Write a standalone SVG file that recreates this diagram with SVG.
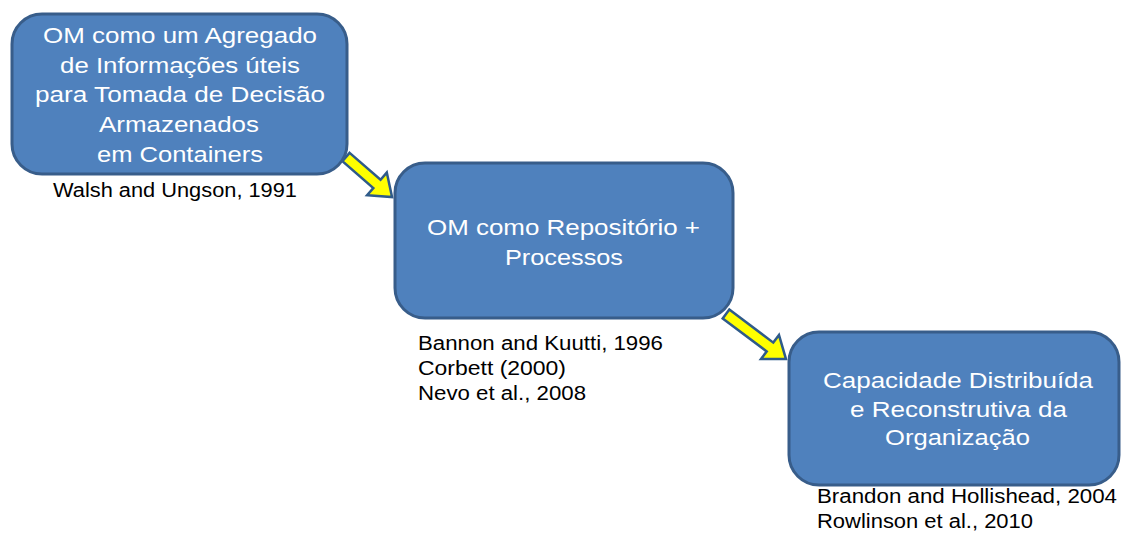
<svg xmlns="http://www.w3.org/2000/svg" width="1121" height="533" viewBox="0 0 1121 533">
<defs>
<style>
.box{fill:#4F81BD;stroke:#385D8A;stroke-width:3}
.arrow{fill:#FFFF00;stroke:#2F5B8A;stroke-width:2.5;stroke-linejoin:miter}
.t{font-family:"Liberation Sans",Arial,sans-serif;font-size:22px;fill:#FFFFFF}
.c{font-family:"Liberation Sans",Arial,sans-serif;font-size:20px;fill:#000000}
</style>
</defs>
<rect width="1121" height="533" fill="#FFFFFF"/>
<g id="connectors">
<polygon class="arrow" transform="translate(346,157) rotate(41)" points="0,-5.5 41,-5.5 41,-15 61,0 41,15 41,5.5 0,5.5"/>
<polygon class="arrow" transform="translate(726,314) rotate(36.9)" points="0,-5.5 55,-5.5 55,-15 75,0 55,15 55,5.5 0,5.5"/>
</g>
<g id="node1">
<rect class="box" x="12" y="14" width="335" height="160" rx="30" ry="30"/>
<text class="t" x="43" y="43" textLength="274" lengthAdjust="spacingAndGlyphs">OM como um Agregado</text>
<text class="t" x="60" y="73" textLength="240" lengthAdjust="spacingAndGlyphs">de Informações úteis</text>
<text class="t" x="35" y="102" textLength="290" lengthAdjust="spacingAndGlyphs">para Tomada de Decisão</text>
<text class="t" x="99" y="132" textLength="160" lengthAdjust="spacingAndGlyphs">Armazenados</text>
<text class="t" x="97" y="162" textLength="166" lengthAdjust="spacingAndGlyphs">em Containers</text>
<text class="c" x="53" y="197" textLength="244" lengthAdjust="spacingAndGlyphs">Walsh and Ungson, 1991</text>
</g>
<g id="node2">
<rect class="box" x="395" y="163" width="338" height="155" rx="30" ry="30"/>
<text class="t" x="427" y="235" textLength="273" lengthAdjust="spacingAndGlyphs">OM como Repositório +</text>
<text class="t" x="505" y="265" textLength="118" lengthAdjust="spacingAndGlyphs">Processos</text>
<text class="c" x="418" y="350" textLength="245" lengthAdjust="spacingAndGlyphs">Bannon and Kuutti, 1996</text>
<text class="c" x="418" y="375" textLength="148" lengthAdjust="spacingAndGlyphs">Corbett (2000)</text>
<text class="c" x="418" y="400" textLength="168" lengthAdjust="spacingAndGlyphs">Nevo et al., 2008</text>
</g>
<g id="node3">
<rect class="box" x="789" y="332" width="330" height="153" rx="30" ry="30"/>
<text class="t" x="823" y="388" textLength="270" lengthAdjust="spacingAndGlyphs">Capacidade Distribuída</text>
<text class="t" x="850" y="417" textLength="217" lengthAdjust="spacingAndGlyphs">e Reconstrutiva da</text>
<text class="t" x="885" y="445" textLength="145" lengthAdjust="spacingAndGlyphs">Organização</text>
<text class="c" x="817" y="503" textLength="300" lengthAdjust="spacingAndGlyphs">Brandon and Hollishead, 2004</text>
<text class="c" x="817" y="528" textLength="216" lengthAdjust="spacingAndGlyphs">Rowlinson et al., 2010</text>
</g>
</svg>
